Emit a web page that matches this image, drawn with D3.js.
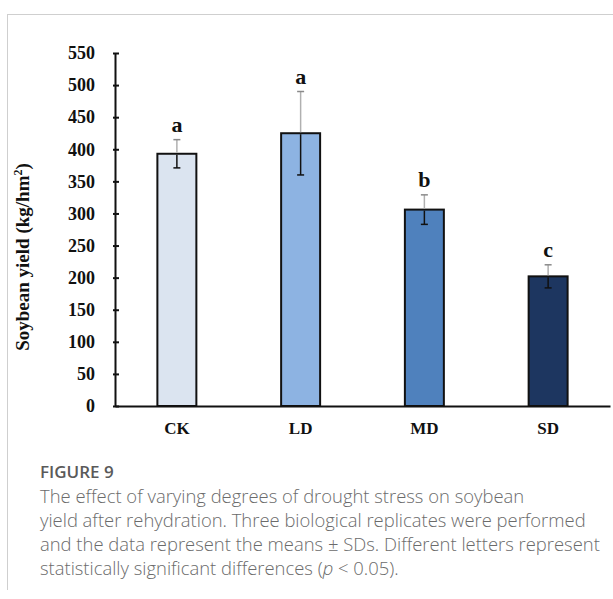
<!DOCTYPE html>
<html>
<head>
<meta charset="utf-8">
<script src="https://cdn.jsdelivr.net/npm/d3@7"></script>
<style>
  body { margin: 0; background: #fff; }
  svg { display: block; }
</style>
</head>
<body>
<script>
// data
const categories = ["CK", "LD", "MD", "SD"];
const means = [393, 425, 306, 202];
const sds = [22, 65, 23, 18];
const letters = ["a", "a", "b", "c"];
const yTicks = [0, 50, 100, 150, 200, 250, 300, 350, 400, 450, 500, 550];

const captionTitle = "FIGURE 9";
const captionLines = [
  "The effect of varying degrees of drought stress on soybean",
  "yield after rehydration. Three biological replicates were performed",
  "and the data represent the means \u00b1 SDs. Different letters represent",
  "statistically significant differences ("
];

const barColors = ["#dbe4f0", "#8db3e2", "#4f81bd", "#1d3660"];

const drawViz = () => {
  const width = 613;
  const height = 599;
  const plot = {left: 115, right: 610, top: 53, bottom: 406};
  const serif = "'Liberation Serif', 'Times New Roman', serif";

  const data = categories.map((c, i) => ({cat: c, mean: means[i], sd: sds[i], letter: letters[i], color: barColors[i]}));

  const svg = d3.select('body')
    .append('svg')
    .attr('width', width)
    .attr('height', height);

  // frame lines of the figure panel
  svg.append('line')
    .attr('x1', 7).attr('x2', width).attr('y1', 14.5).attr('y2', 14.5)
    .attr('stroke', '#cfcfcf').attr('stroke-width', 1);
  svg.append('line')
    .attr('x1', 7.5).attr('x2', 7.5).attr('y1', 14).attr('y2', 590)
    .attr('stroke', '#cfcfcf').attr('stroke-width', 1);

  const xScale = d3.scaleBand()
    .domain(categories)
    .range([plot.left, plot.right])
    .paddingInner(0.685)
    .paddingOuter(0.3425);

  const yScale = d3.scaleLinear()
    .domain([0, 550])
    .range([plot.bottom, plot.top]);

  // bars
  svg.append('g')
    .selectAll('rect')
    .data(data)
    .enter()
    .append('rect')
    .attr('x', (d) => xScale(d.cat))
    .attr('y', (d) => yScale(d.mean))
    .attr('width', xScale.bandwidth())
    .attr('height', (d) => yScale(0) - yScale(d.mean))
    .attr('fill', (d) => d.color)
    .attr('stroke', '#111')
    .attr('stroke-width', 2);

  // error bars: grey above the bar, black inside it
  const err = svg.append('g').selectAll('g').data(data).enter().append('g');
  const cx = (d) => xScale(d.cat) + xScale.bandwidth() / 2;
  err.append('line')
    .attr('x1', cx).attr('x2', cx)
    .attr('y1', (d) => yScale(d.mean + d.sd))
    .attr('y2', (d) => yScale(d.mean) - 1)
    .attr('stroke', '#b0b0b0').attr('stroke-width', 1.5);
  err.append('line')
    .attr('x1', (d) => cx(d) - 3.5).attr('x2', (d) => cx(d) + 3.5)
    .attr('y1', (d) => yScale(d.mean + d.sd))
    .attr('y2', (d) => yScale(d.mean + d.sd))
    .attr('stroke', '#8a8a8a').attr('stroke-width', 1.5);
  err.append('line')
    .attr('x1', cx).attr('x2', cx)
    .attr('y1', (d) => yScale(d.mean) + 1)
    .attr('y2', (d) => yScale(d.mean - d.sd))
    .attr('stroke', '#111').attr('stroke-width', 1.5);
  err.append('line')
    .attr('x1', (d) => cx(d) - 3.5).attr('x2', (d) => cx(d) + 3.5)
    .attr('y1', (d) => yScale(d.mean - d.sd))
    .attr('y2', (d) => yScale(d.mean - d.sd))
    .attr('stroke', '#111').attr('stroke-width', 1.5);

  // significance letters
  svg.append('g')
    .selectAll('text')
    .data(data)
    .enter()
    .append('text')
    .attr('x', cx)
    .attr('y', (d) => yScale(d.mean + d.sd) - 8)
    .attr('text-anchor', 'middle')
    .attr('font-family', serif)
    .attr('font-weight', 'bold')
    .attr('font-size', 22)
    .attr('fill', '#111')
    .text((d) => d.letter);

  // y axis
  const yAxis = svg.append('g')
    .attr('transform', `translate(${plot.left},0)`)
    .call(d3.axisLeft(yScale).tickValues(yTicks).tickSize(-4).tickSizeOuter(0).tickPadding(20));
  yAxis.select('.domain').attr('stroke', '#111').attr('stroke-width', 2);
  yAxis.selectAll('.tick line').attr('stroke', '#111').attr('stroke-width', 2).attr('x1', -2);
  yAxis.selectAll('.tick text')
    .attr('font-family', serif)
    .attr('font-weight', 'bold')
    .attr('font-size', 18)
    .attr('fill', '#111');

  // x axis
  const xAxis = svg.append('g')
    .attr('transform', `translate(0,${plot.bottom})`)
    .call(d3.axisBottom(xScale).tickSize(0).tickPadding(16));
  xAxis.select('.domain').attr('stroke', '#111').attr('stroke-width', 2);
  xAxis.selectAll('.tick text')
    .attr('font-family', serif)
    .attr('font-weight', 'bold')
    .attr('font-size', 17)
    .attr('fill', '#111');

  // y axis title
  const yTitle = svg.append('text')
    .attr('transform', 'translate(29,257) rotate(-90)')
    .attr('text-anchor', 'middle')
    .attr('font-family', serif)
    .attr('font-weight', 'bold')
    .attr('font-size', 19)
    .attr('fill', '#111');
  yTitle.append('tspan').text('Soybean yield  (kg/hm');
  yTitle.append('tspan').attr('dy', -7).attr('font-size', 12).text('2');
  yTitle.append('tspan').attr('dy', 7).text(')');

  // caption
  const sans = "'Open Sans', 'Noto Sans', sans-serif";
  svg.append('text')
    .attr('x', 40).attr('y', 478)
    .attr('font-family', sans)
    .attr('font-weight', 600)
    .attr('font-size', 17)
    .attr('fill', '#5a5a5a')
    .text(captionTitle);

  const cap = svg.append('g')
    .attr('font-family', sans)
    .attr('font-weight', 300)
    .attr('font-size', 17)
    .attr('fill', '#6b6b6b');
  const lines = cap.selectAll('text')
    .data(captionLines)
    .enter()
    .append('text')
    .attr('x', 40)
    .attr('y', (d, i) => 503 + i * 24)
    .text((d) => d);
  const last = lines.filter((d, i) => i === captionLines.length - 1);
  last.append('tspan').attr('font-style', 'italic').text('p');
  last.append('tspan').text(' < 0.05).');

  // fit the caption width to the panel
  const w = lines.nodes()[1].getComputedTextLength();
  const fs = 17 * 546 / w;
  cap.attr('font-size', fs.toFixed(2));
};

drawViz();
</script>
</body>
</html>
